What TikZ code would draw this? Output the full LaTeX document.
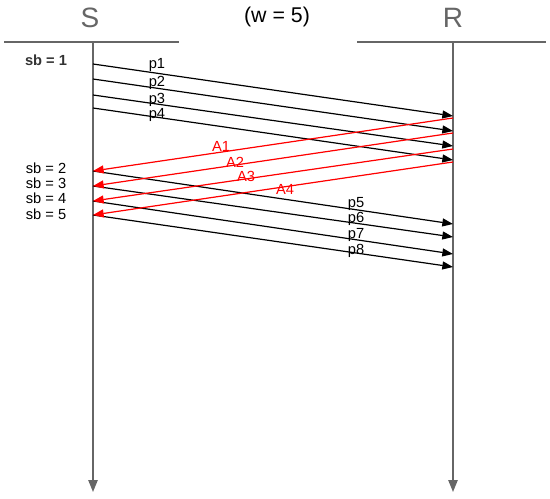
\documentclass[tikz,border=0pt]{standalone}
\usepackage{fontspec}
\setmainfont{Liberation Sans}
\usetikzlibrary{arrows.meta}
\definecolor{lifegray}{HTML}{666666}
\definecolor{sbgray}{HTML}{333333}
\begin{document}
\begin{tikzpicture}[x=0.75pt, y=-0.75pt,
    every node/.style={font=\fontsize{11}{12}\selectfont, inner sep=0pt},
    party/.style={font=\fontsize{21}{22}\selectfont, text=lifegray},
    life/.style={draw=lifegray, line width=1.2pt, -{Triangle[length=9pt, width=7pt]}},
    rule/.style={draw=lifegray, line width=1.5pt},
    pkt/.style={line width=0.9pt, -{Triangle[length=8pt, width=6pt]}},
    ack/.style={pkt, draw=red, fill=red}]
    \useasboundingbox (0,0) rectangle (550,499);

    % parties and window size
    \node[party] (S) at (90,18) {S};
    \node[party] (R) at (453,18) {R};
    \node[font=\fontsize{16}{18}\selectfont] (w) at (277,17) {(w = 5)};

    \coordinate (ruleSa) at (4,42);
    \coordinate (ruleSb) at (179,42);
    \coordinate (ruleRa) at (357,42);
    \coordinate (ruleRb) at (546,42);
    \draw[rule] (ruleSa) -- (ruleSb);
    \draw[rule] (ruleRa) -- (ruleRb);

    % life lines
    \coordinate (Stop) at (93,42);
    \coordinate (Sbot) at (93,492);
    \coordinate (Rtop) at (453,42);
    \coordinate (Rbot) at (453,492);
    \draw[life] (Stop) -- (Sbot);
    \draw[life] (Rtop) -- (Rbot);

    % packets S -> R
    \foreach \i/\ys/\ye in {1/64/116, 2/79/131, 3/95/146, 4/108/160,
                            5/171/224, 6/186/237, 7/201/254, 8/215/267} {
        \coordinate (p\i s) at (93,\ys);
        \coordinate (p\i e) at (453,\ye);
        \draw[pkt] (p\i s) -- (p\i e);
    }

    % acks R -> S
    \foreach \i/\ys/\ye in {1/118/171, 2/133/186, 3/149/201, 4/162/215} {
        \coordinate (a\i s) at (453,\ys);
        \coordinate (a\i e) at (93,\ye);
        \draw[ack] (a\i s) -- (a\i e);
    }

    % labels
    \foreach \i/\x/\y in {1/157/65, 2/157/83, 3/157/100, 4/157/115,
                          5/356/204, 6/356/219, 7/356/235, 8/356/251}
        \node (lp\i) at (\x,\y) {p\i};
    \foreach \i/\x/\y in {1/221/146, 2/235/162, 3/246/176, 4/285/189}
        \node[text=red] (la\i) at (\x,\y) {A\i};

    \node[font=\fontsize{11}{12}\selectfont\bfseries, text=sbgray] (sb1) at (46,60) {sb = 1};
    \foreach \i/\y in {2/168, 3/183, 4/198, 5/214}
        \node (sb\i) at (46,\y) {sb = \i};
\end{tikzpicture}
\end{document}
